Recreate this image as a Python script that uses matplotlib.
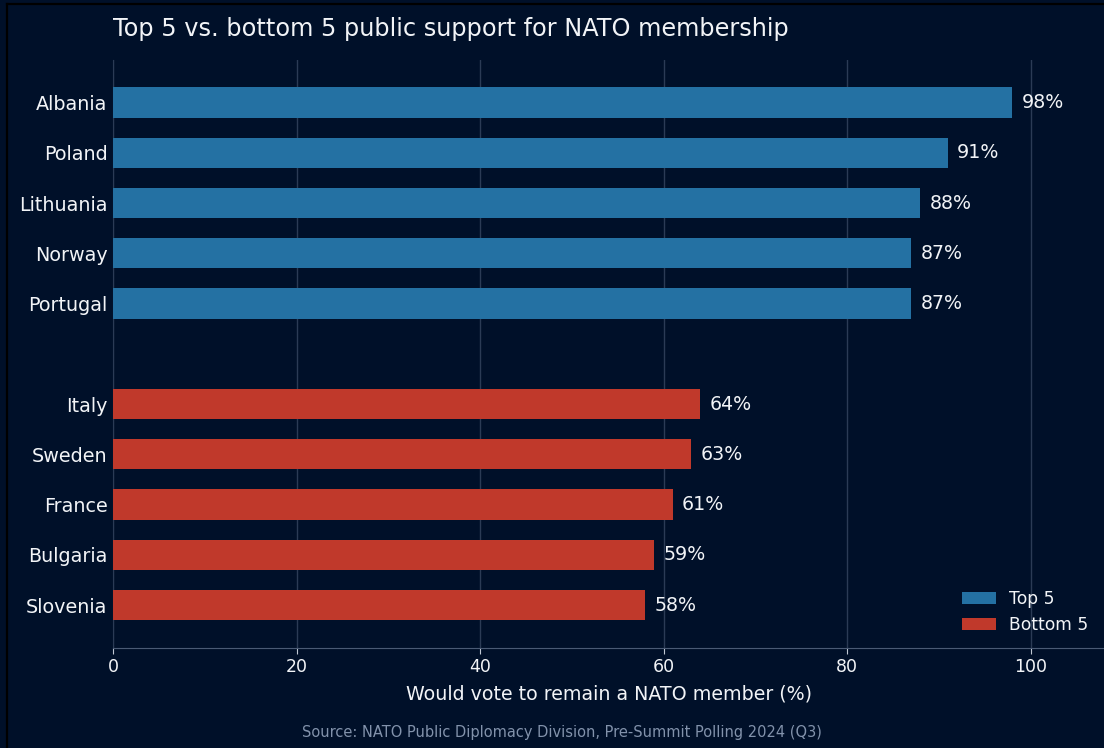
import matplotlib.pyplot as plt
from matplotlib.lines import Line2D

plt.rcParams["font.family"] = ["DejaVu Sans"]

# Top 5 / bottom 5 support for NATO membership (%)
top_countries = ["Albania", "Poland", "Lithuania", "Norway", "Portugal"]
top_values = [98, 91, 88, 87, 87]
bottom_countries = ["Italy", "Sweden", "France", "Bulgaria", "Slovenia"]
bottom_values = [64, 63, 61, 59, 58]

BG = "#001029"
TEXT = "#f2f4f7"
GRID = "#2b3b55"
BLUE = "#2471a3"
RED = "#c0392b"

fig = plt.figure(figsize=(11.04, 7.48), dpi=100, facecolor=BG)
ax = fig.add_axes([0.1024, 0.134, 0.8976, 0.786])
ax.set_facecolor(BG)

top_pos = list(range(len(top_countries)))
bottom_pos = [len(top_countries) + 1 + i for i in range(len(bottom_countries))]

ax.barh(top_pos, top_values, height=0.6, color=BLUE, label="Top 5", zorder=3)
ax.barh(bottom_pos, bottom_values, height=0.6, color=RED, label="Bottom 5", zorder=3)

for pos, val in zip(top_pos + bottom_pos, top_values + bottom_values):
    ax.text(val + 1, pos, f"{val}%", va="center", ha="left", color=TEXT, fontsize=13.7)

ax.set_yticks(top_pos + bottom_pos)
ax.set_yticklabels(top_countries + bottom_countries, fontsize=13.8, color=TEXT)
ax.set_ylim(10.85, -0.85)
ax.set_xlim(0, 108)
ax.set_xticks([0, 20, 40, 60, 80, 100])
ax.tick_params(axis="x", colors=TEXT, labelsize=12.5, length=4, color="#c0c8d4")
ax.tick_params(axis="y", length=0, pad=4)

ax.grid(axis="x", color=GRID, linewidth=1, zorder=0)
for side in ["top", "right"]:
    ax.spines[side].set_visible(False)
ax.spines["left"].set_color(GRID)
ax.spines["bottom"].set_color("#4a5a74")

ax.set_xlabel("Would vote to remain a NATO member (%)", color=TEXT, fontsize=13.7, labelpad=6)
fig.text(0.1024, 0.961, "Top 5 vs. bottom 5 public support for NATO membership",
         color=TEXT, fontsize=17.3, ha="left", va="center")
fig.text(0.509, 0.021, "Source: NATO Public Diplomacy Division, Pre-Summit Polling 2024 (Q3)",
         color="#8292ab", fontsize=10.5, ha="center", va="center")

ax.legend(loc="lower right", frameon=False, fontsize=12.3, labelcolor=TEXT,
          bbox_to_anchor=(1.0, -0.003), handlelength=2.0)

# thin dark frame along the top and left edges
fig.lines.append(Line2D([0.0059, 0.0059], [0, 0.995], transform=fig.transFigure,
                        color="#000000", linewidth=1.6))
fig.lines.append(Line2D([0.0059, 1], [0.995, 0.995], transform=fig.transFigure,
                        color="#000000", linewidth=1.6))

fig.savefig("out.png", dpi=100, facecolor=BG)
